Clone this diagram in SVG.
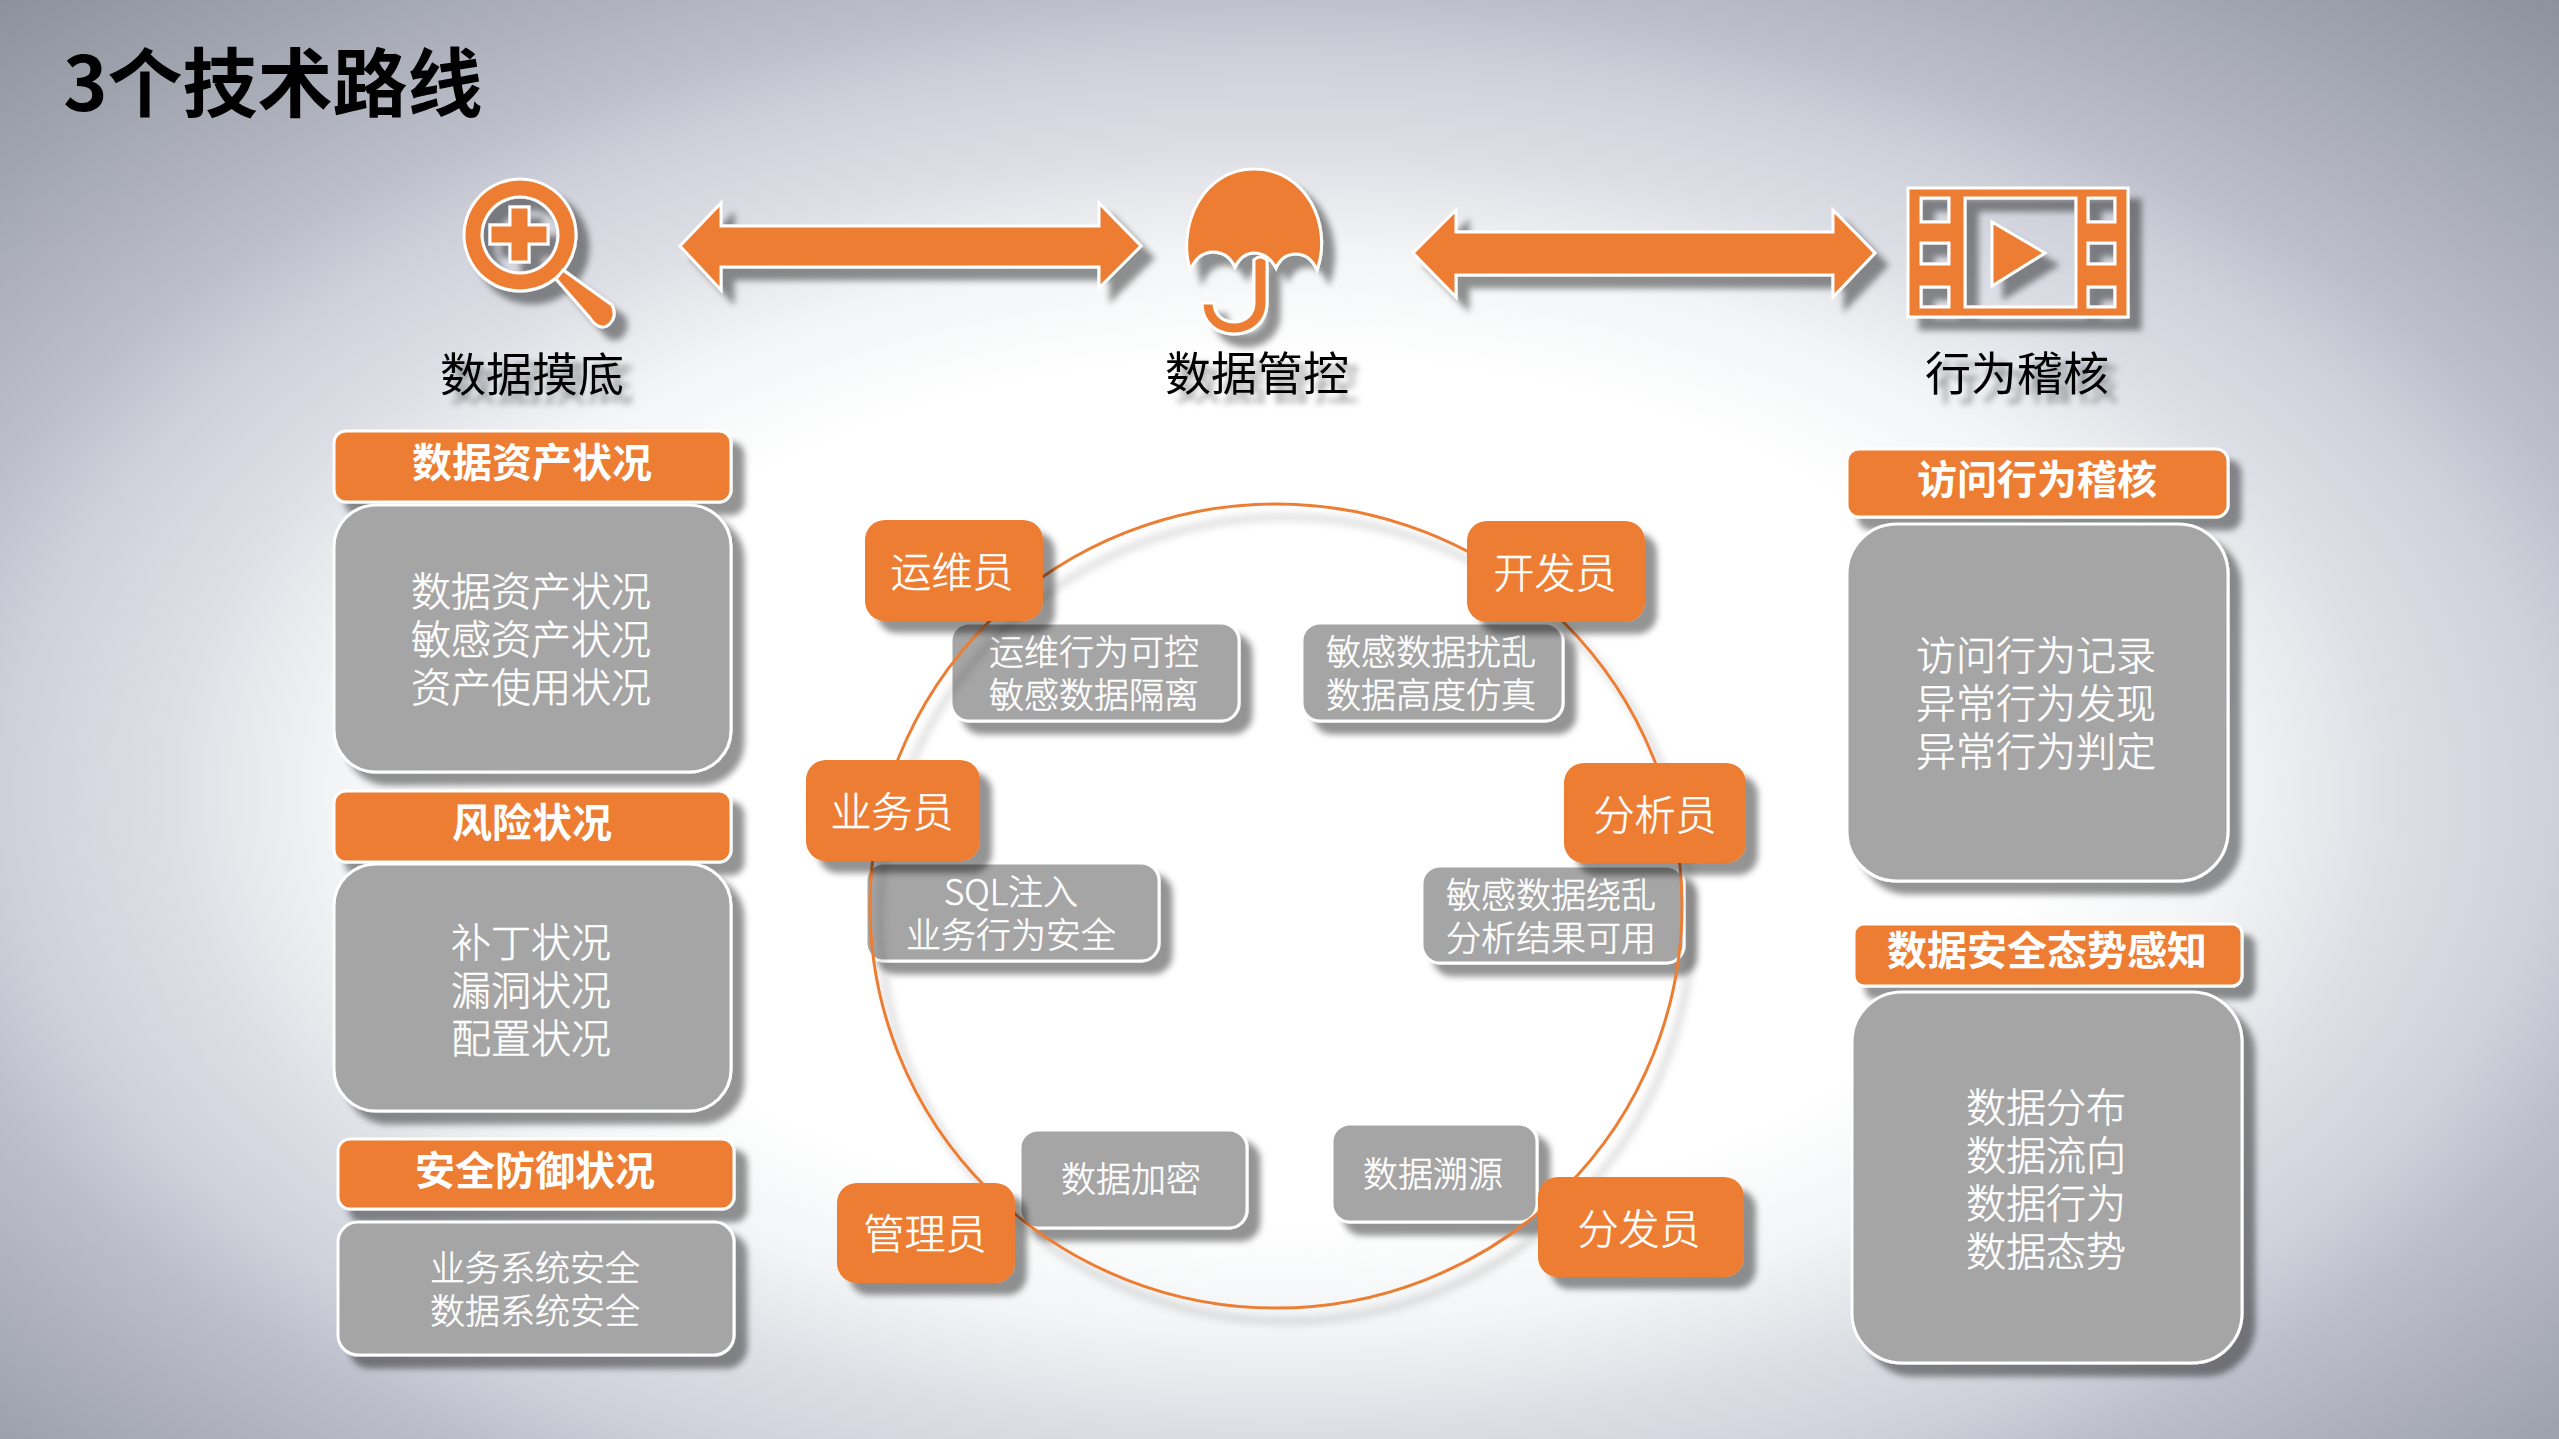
<svg xmlns="http://www.w3.org/2000/svg" width="2559" height="1439" viewBox="0 0 2559 1439">
<style>
text{font-family:"Noto Sans CJK SC","Noto Sans",sans-serif;text-anchor:middle;dominant-baseline:central}
.o{fill:#ed7d31;stroke:#fff;stroke-width:3}
.r{fill:#ed7d31}
.g{fill:#a5a5a5;stroke:#fff;stroke-width:3}
.s{filter:url(#sh)}
.w{fill:#fff;font-weight:300;stroke:#fff;stroke-width:.5}
.f41{font-size:41px}
.f40{font-size:40px}
.f35{font-size:35px}
.b{fill:#fff;font-weight:700;font-size:40px}
.lab{fill:#000;font-size:46px;font-weight:400;filter:url(#ts)}
</style>
<defs>
<radialGradient id="bg" gradientUnits="userSpaceOnUse" cx="0" cy="0" r="1" gradientTransform="translate(1280 790) scale(1950 1118)">
<stop offset="0" stop-color="#fff"/>
<stop offset=".385" stop-color="#fff"/>
<stop offset=".485" stop-color="#f2f4f5"/>
<stop offset=".577" stop-color="#dcdee5"/>
<stop offset=".654" stop-color="#ced1da"/>
<stop offset=".715" stop-color="#bcbfca"/>
<stop offset=".87" stop-color="#9ea2ac"/>
<stop offset="1" stop-color="#878b95"/>
</radialGradient>
<filter id="sh" x="-20%" y="-20%" width="150%" height="150%"><feDropShadow dx="12" dy="12" stdDeviation="3" flood-color="#000" flood-opacity=".42"/></filter>
<filter id="ts" x="-10%" y="-20%" width="125%" height="150%"><feDropShadow dx="10" dy="9" stdDeviation="3" flood-color="#000" flood-opacity=".4"/></filter>
<filter id="cs" x="-5%" y="-5%" width="110%" height="110%"><feDropShadow dx="10" dy="13" stdDeviation="4" flood-color="#000" flood-opacity=".3"/></filter>
</defs>
<rect id="background" width="2559" height="1439" fill="url(#bg)"/>
<text id="title" x="273" y="78" style="font-size:75px;font-weight:700;fill:#000">3个技术路线</text>

<g id="icon-search" class="s">
<path class="o" fill-rule="evenodd" d="M520 179a56 56 0 1 0 .01 0ZM520 197a38 38 0 1 1-.01 0Z"/>
<path class="o" d="M510 207H529V225H548V244H529V262H510V244H490V225H510Z"/>
<path class="o" d="M563 270L612 305Q618 318 607 326Q598 330 590 318L556 279Z"/>
</g>
<g id="icon-umbrella" class="s">
<path class="o" d="M1254 260Q1260 254 1267 260V303C1267 322 1252 334 1234 334C1216 334 1202 322 1202 303H1214C1214 314 1222 322 1234 322C1246 322 1254 314 1254 303Z"/>
<path class="o" d="M1190 270C1177 225 1203 169 1254 169C1306 169 1333 225 1317 270Q1310 254 1296 254Q1282 254 1276 268Q1268 253 1254 253Q1242 253 1235 267Q1228 252 1213 252Q1198 252 1190 270Z"/>
</g>
<g id="icon-film" class="s">
<path class="o" fill-rule="evenodd" d="M1908 188H2128V317H1908ZM1921 198V222H1949V198ZM1921 243V264H1949V243ZM1921 287V307H1949V287ZM2088 198V222H2115V198ZM2088 243V264H2115V243ZM2088 287V307H2115V287ZM1965 198V307H2076V198Z"/>
<path class="o" d="M1992 222L2045 253L1992 286Z"/>
</g>

<g id="connectors">
<path id="arrow-1" class="o s" d="M680 246L721 203V226H1099V203L1141 246L1099 288V267H721V290Z"/>
<path id="arrow-2" class="o s" d="M1413 253L1456 210V232H1833V210L1875 253L1833 297V275H1456V297Z"/>
</g>

<text id="label-1" class="lab" x="532" y="371">数据摸底</text>
<text id="label-2" class="lab" x="1257" y="370">数据管控</text>
<text id="label-3" class="lab" x="2017" y="370">行为稽核</text>

<g id="left-1">
<rect class="o s" x="334" y="431" width="397" height="71" rx="12"/>
<text class="b" x="532" y="460">数据资产状况</text>
<rect class="g s" x="334" y="505" width="397" height="267" rx="42"/>
<text class="w f40" x="531" y="589">数据资产状况</text>
<text class="w f40" x="531" y="637">敏感资产状况</text>
<text class="w f40" x="531" y="685">资产使用状况</text>
</g>
<g id="left-2">
<rect class="o s" x="334" y="791" width="397" height="71" rx="12"/>
<text class="b" x="532" y="820">风险状况</text>
<rect class="g s" x="334" y="864" width="397" height="247" rx="42"/>
<text class="w f40" x="531" y="940">补丁状况</text>
<text class="w f40" x="531" y="988">漏洞状况</text>
<text class="w f40" x="531" y="1036">配置状况</text>
</g>
<g id="left-3">
<rect class="o s" x="338" y="1139" width="396" height="70" rx="12"/>
<text class="b" x="535" y="1168">安全防御状况</text>
<rect class="g s" x="338" y="1222" width="396" height="133" rx="20"/>
<text class="w f35" x="535" y="1265">业务系统安全</text>
<text class="w f35" x="535" y="1308">数据系统安全</text>
</g>
<g id="right-1">
<rect class="o s" x="1847" y="449" width="381" height="68" rx="12"/>
<text class="b" x="2037" y="477">访问行为稽核</text>
<rect class="g s" x="1847" y="524" width="381" height="357" rx="50"/>
<text class="w f40" x="2036" y="653">访问行为记录</text>
<text class="w f40" x="2036" y="701">异常行为发现</text>
<text class="w f40" x="2036" y="749">异常行为判定</text>
</g>
<g id="right-2">
<rect class="o s" x="1854" y="924" width="388" height="62" rx="10"/>
<text class="b" x="2047" y="948">数据安全态势感知</text>
<rect class="g s" x="1852" y="992" width="390" height="371" rx="50"/>
<text class="w f40" x="2046" y="1105">数据分布</text>
<text class="w f40" x="2046" y="1153">数据流向</text>
<text class="w f40" x="2046" y="1201">数据行为</text>
<text class="w f40" x="2046" y="1249">数据态势</text>
</g>

<g id="box-ops">
<rect class="g s" x="951" y="623" width="288" height="98" rx="18"/>
<text class="w f35" x="1094" y="649">运维行为可控</text>
<text class="w f35" x="1094" y="692">敏感数据隔离</text>
</g>
<g id="box-dev">
<rect class="g s" x="1302" y="623" width="261" height="98" rx="18"/>
<text class="w f35" x="1431" y="649">敏感数据扰乱</text>
<text class="w f35" x="1431" y="692">数据高度仿真</text>
</g>
<g id="box-biz">
<rect class="g s" x="866" y="863" width="293" height="98" rx="18"/>
<text class="w f35" x="1011" y="889">SQL注入</text>
<text class="w f35" x="1011" y="932">业务行为安全</text>
</g>
<g id="box-ana">
<rect class="g s" x="1422" y="866" width="262" height="97" rx="18"/>
<text class="w f35" x="1551" y="892">敏感数据绕乱</text>
<text class="w f35" x="1551" y="935">分析结果可用</text>
</g>
<g id="box-enc">
<rect class="g s" x="1020" y="1130" width="227" height="98" rx="18"/>
<text class="w f35" x="1131" y="1176">数据加密</text>
</g>
<g id="box-trace">
<rect class="g s" x="1332" y="1124" width="205" height="98" rx="18"/>
<text class="w f35" x="1433" y="1171">数据溯源</text>
</g>

<g id="ring">
<ellipse cx="1276" cy="906" rx="406" ry="402" fill="none" stroke="#ed7d31" stroke-width="3" filter="url(#cs)"/>
</g>

<g id="role-ops">
<rect class="r s" x="865" y="520" width="178" height="101" rx="20"/>
<text class="w f41" x="952" y="569">运维员</text>
</g>
<g id="role-dev">
<rect class="r s" x="1467" y="521" width="178" height="101" rx="20"/>
<text class="w f41" x="1555" y="570">开发员</text>
</g>
<g id="role-biz">
<rect class="r s" x="806" y="760" width="174" height="101" rx="20"/>
<text class="w f41" x="892" y="809">业务员</text>
</g>
<g id="role-ana">
<rect class="r s" x="1564" y="763" width="182" height="100" rx="20"/>
<text class="w f41" x="1655" y="812">分析员</text>
</g>
<g id="role-admin">
<rect class="r s" x="837" y="1183" width="178" height="100" rx="20"/>
<text class="w f41" x="925" y="1231">管理员</text>
</g>
<g id="role-dist">
<rect class="r s" x="1538" y="1177" width="206" height="100" rx="20"/>
<text class="w f41" x="1639" y="1226">分发员</text>
</g>
</svg>
